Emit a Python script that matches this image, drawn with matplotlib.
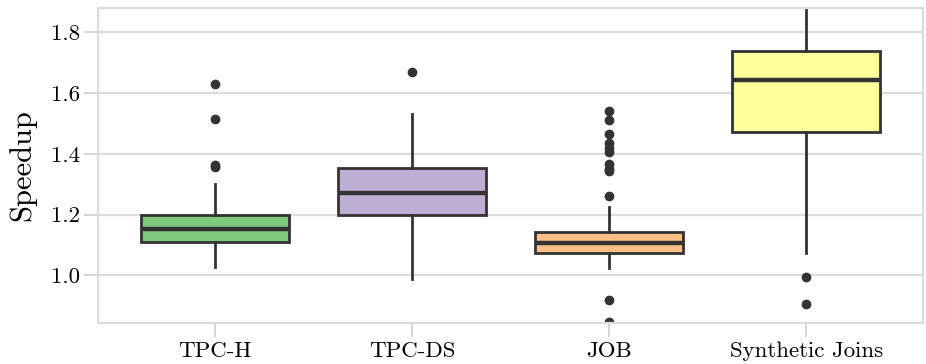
import numpy as np
import matplotlib
matplotlib.use('Agg')
import matplotlib.pyplot as plt

plt.close('all')

plt.rcParams['font.family'] = 'serif'
plt.rcParams['font.serif'] = ['cmr10']
plt.rcParams['mathtext.fontset'] = 'cm'
plt.rcParams['axes.formatter.use_mathtext'] = True

# summary stats
labels = ['TPC-H', 'TPC-DS', 'JOB', 'Synthetic Joins']
q1 = [1.111, 1.199, 1.073, 1.471]
med = [1.152, 1.270, 1.108, 1.643]
q3 = [1.199, 1.353, 1.142, 1.739]
whislo = [1.029, 0.987, 1.024, 1.073]
whishi = [1.300, 1.530, 1.224, 1.95]
fliers = [
    [1.630, 1.515, 1.362, 1.356],
    [1.668],
    [1.542, 1.511, 1.464, 1.435, 1.420, 1.405, 1.365, 1.350, 1.342, 1.263, 0.919, 0.848],
    [0.996, 0.905],
]
colors = ['#7fc97f', '#beaed4', '#fdc086', '#ffff99']

stats = []
for i in range(len(labels)):
    stats.append(dict(label=labels[i], q1=q1[i], med=med[i], q3=q3[i],
                      whislo=whislo[i], whishi=whishi[i], fliers=fliers[i]))

fig = plt.figure(figsize=(9.26, 3.64), dpi=100)
ax = fig.add_axes([0.106, 0.113, 0.891, 0.866])
ax.set_axisbelow(True)
ax.grid(axis='y', color='#dcdcdc', lw=1.6)

edge = '#333333'
bp = ax.bxp(stats, positions=range(len(labels)), widths=0.75, patch_artist=True,
            showcaps=False,
            boxprops=dict(edgecolor=edge, lw=2),
            medianprops=dict(color=edge, lw=3.2),
            whiskerprops=dict(color=edge, lw=2),
            flierprops=dict(marker='o', markerfacecolor=edge, markeredgecolor=edge,
                            markersize=6))
for patch, c in zip(bp['boxes'], colors):
    patch.set_facecolor(c)

ax.set_xlim(-0.594, 3.594)
ax.set_ylim(0.844, 1.881)
ax.set_yticks([1.0, 1.2, 1.4, 1.6, 1.8])
ax.set_yticklabels(['1.0', '1.2', '1.4', '1.6', '1.8'])
ax.set_ylabel('Speedup', fontsize=22)
ax.yaxis.set_label_coords(-0.075, 0.5)
ax.tick_params(labelsize=16.5, color='#d5d5d5', length=10, width=1.4)
ax.tick_params(axis='y', pad=3)
ax.tick_params(axis='x', pad=3.5)
for s in ax.spines.values():
    s.set_color('#dcdcdc')
    s.set_linewidth(1.6)

fig.savefig('out.png', dpi=100)
